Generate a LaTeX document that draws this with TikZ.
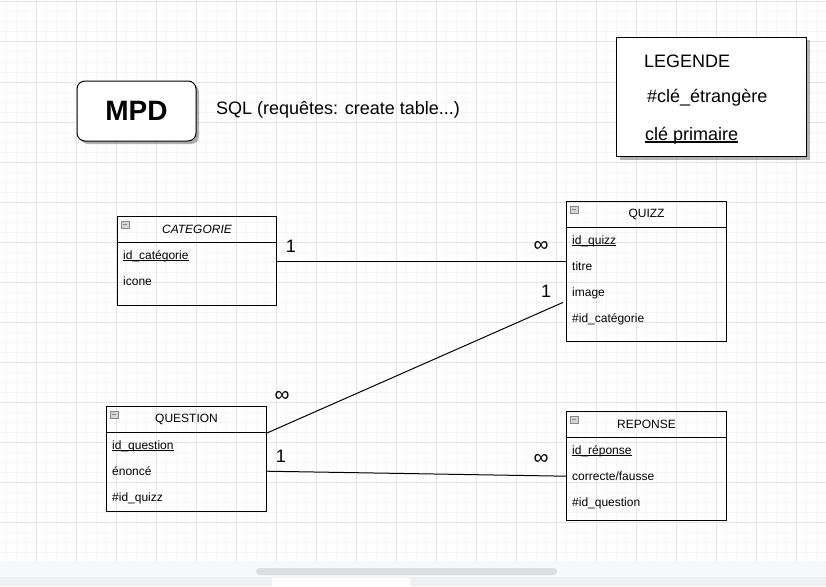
\documentclass[tikz,border=0pt]{standalone}
\usepackage{fontspec}
\setmainfont{Liberation Sans}
\usetikzlibrary{shadows}
\definecolor{gridmin}{HTML}{F6F6F6}
\definecolor{gridmaj}{HTML}{E4E4E4}
\definecolor{iconfill}{HTML}{D6D6D6}
\definecolor{icondraw}{HTML}{888888}
\definecolor{bandcol}{HTML}{F7F8F9}
\definecolor{barcol}{HTML}{DCDDE0}
\definecolor{tabcol}{HTML}{EEF0F2}
\newcommand{\attrfont}{\fontsize{12}{14}\selectfont}
\newcommand{\bigfont}{\fontsize{18}{21}\selectfont}
% underline close to the baseline
\newcommand{\keyline}[3]{\leavevmode\setbox0\hbox{#1}\rlap{\rule[-#2]{\wd0}{#3}}\box0}
\tikzset{
  tabbox/.style={draw,line width=1pt,anchor=north west,minimum width=160pt,inner sep=0pt},
  tabhead/.style={draw,line width=1pt,anchor=north west,minimum width=160pt,minimum height=26pt,inner sep=0pt,font=\attrfont},
  tabrow/.style={anchor=north west,minimum height=26pt,text width=148pt,text height=10pt,text depth=2pt,inner xsep=6pt,inner ysep=0pt,align=left,font=\attrfont},
  minusbox/.style={draw=icondraw,fill=iconfill,line width=0.5pt,anchor=north west,minimum width=8pt,minimum height=7pt,inner sep=0pt,xshift=4pt,yshift=-5pt,
    path picture={\draw[icondraw,line width=0.7pt] ([xshift=2pt]path picture bounding box.west) -- ([xshift=-2pt]path picture bounding box.east);}},
  card/.style={font=\bigfont,inner sep=0pt},
  many/.style={font=\fontsize{21}{24}\selectfont,inner sep=0pt},
  legtext/.style={anchor=base west,inner sep=0pt,font=\bigfont},
  link/.style={line width=1pt},
  boxshadow/.style={drop shadow={shadow xshift=3pt,shadow yshift=-3pt,opacity=0.3,fill=black}},
}
\begin{document}
\begin{tikzpicture}[x=1pt,y=-1pt]
\useasboundingbox (0,0) rectangle (826,586);
\fill[white] (0,0) rectangle (826,586);
%% grid
\foreach \gx in {6,16,...,826} \draw[gridmin,line width=1pt] (\gx,0) -- (\gx,561);
\foreach \gy in {2,12,...,561} \draw[gridmin,line width=1pt] (0,\gy) -- (826,\gy);
\foreach \gx in {36,76,...,826} \draw[gridmaj,line width=1pt] (\gx,0) -- (\gx,561);
\foreach \gy in {2,42,...,561} \draw[gridmaj,line width=1pt] (0,\gy) -- (826,\gy);
\fill[bandcol] (0,561) rectangle (826,586);
\fill[tabcol] (0,577) rectangle (826,586);
\fill[white] (272,578) rectangle (410,586);
\fill[barcol,rounded corners=3.5pt] (256,568) rectangle (557,575);
%% title and legend
\node (mpd) at (136.5,111) [draw,line width=1pt,rounded corners=8pt,minimum width=119pt,minimum height=60pt,fill=white,boxshadow,font=\fontsize{28}{32}\selectfont\bfseries] {MPD};
\node (sql) at (216,110) [anchor=west,inner sep=0pt,font=\bigfont] {SQL (requêtes: create table...)};
\node (leg) at (616,37) [draw,line width=1pt,anchor=north west,minimum width=190pt,minimum height=119pt,fill=white,boxshadow] {};
\node (legtitle) at (644,67) [legtext] {LEGENDE};
\node (legfk) at (647,102) [legtext] {\#clé\_étrangère};
\node (legpk) at (645,140) [legtext] {\keyline{clé primaire}{2.5pt}{1.2pt}};
%% CATEGORIE
\node (cat) at (117,216) [tabbox,minimum width=159pt,minimum height=89pt] {};
\node (cathead) at (117,216) [tabhead,minimum width=159pt] {\itshape CATEGORIE};
\node (catmin) at (cathead.north west) [minusbox] {};
\node (cat1) at (117,242) [tabrow] {\keyline{id\_catégorie}{1.6pt}{0.8pt}};
\node (cat2) at (117,268) [tabrow] {icone};
%% QUIZZ
\node (qz) at (566,201) [tabbox,minimum height=140pt] {};
\node (qzhead) at (566,201) [tabhead] {QUIZZ};
\node (qzmin) at (qzhead.north west) [minusbox] {};
\node (qz1) at (566,227) [tabrow] {\keyline{id\_quizz}{1.6pt}{0.8pt}};
\node (qz2) at (566,253) [tabrow] {titre};
\node (qz3) at (566,279) [tabrow] {image};
\node (qz4) at (566,305) [tabrow] {\#id\_catégorie};
%% QUESTION
\node (qu) at (106,406) [tabbox,minimum height=105pt] {};
\node (quhead) at (106,406) [tabhead] {QUESTION};
\node (qumin) at (quhead.north west) [minusbox] {};
\node (qu1) at (106,432) [tabrow] {\keyline{id\_question}{1.6pt}{0.8pt}};
\node (qu2) at (106,458) [tabrow] {énoncé};
\node (qu3) at (106,484) [tabrow] {\#id\_quizz};
%% REPONSE
\node (rp) at (566,411) [tabbox,minimum height=109pt] {};
\node (rphead) at (566,411) [tabhead] {REPONSE};
\node (rpmin) at (rphead.north west) [minusbox] {};
\node (rp1) at (566,437) [tabrow] {\keyline{id\_réponse}{1.6pt}{0.8pt}};
\node (rp2) at (566,463) [tabrow] {correcte/fausse};
\node (rp3) at (566,489) [tabrow] {\#id\_question};
%% links
\draw [link] (cat.east) -- (cat.east -| qz.west);
\draw [link] (quhead.south east) -- ([xshift=-3pt,yshift=3pt]qz3.south west);
\draw [link] (qu2.east) -- (rp2.west);
\node (catone) at (291,246) [card] {1};
\node (qzmany) at (541,246) [many] {∞};
\node (qzone) at (546,291) [card] {1};
\node (qumany) at (282,396) [many] {∞};
\node (quone) at (281,456) [card] {1};
\node (rpmany) at (541,459) [many] {∞};
%
\end{tikzpicture}
\end{document}
